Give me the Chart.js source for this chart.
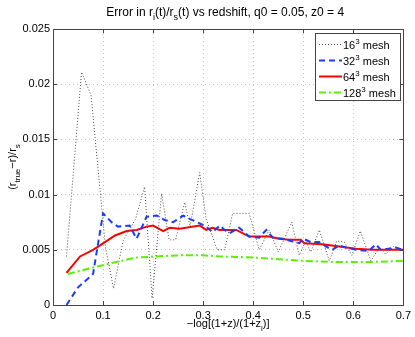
<!DOCTYPE html>
<html><head><meta charset="utf-8">
<script src="https://cdn.jsdelivr.net/npm/chart.js@4/dist/chart.umd.min.js"></script>
<style>html,body{margin:0;padding:0;background:#fff}</style>
</head><body>
<canvas id="c" width="415" height="337"></canvas>
<script>
// ---- data ----
const xTicks = [0, 0.1, 0.2, 0.3, 0.4, 0.5, 0.6, 0.7];
const xTickLabels = ['0', '0.1', '0.2', '0.3', '0.4', '0.5', '0.6', '0.7'];
const yTicks = [0, 0.005, 0.01, 0.015, 0.02, 0.025];
const yTickLabels = ['0', '0.005', '0.01', '0.015', '0.02', '0.025'];
const seriesBase = ['16', '32', '64', '128'];

const mesh16X = [0.027,0.057,0.076,0.105,0.121,0.14,0.165,0.183,0.198,0.217,0.232,0.245,0.263,0.274,0.293,0.306,0.328,0.343,0.359,0.392,0.412,0.432,0.45,0.477,0.492,0.505,0.515,0.532,0.552,0.567,0.582,0.597,0.614,0.635,0.652,0.665,0.68,0.7];
const mesh16Y = [0.0044,0.0211,0.0190,0.0052,0.0015,0.0058,0.0078,0.0107,0.0006,0.0101,0.0059,0.0059,0.0093,0.0071,0.0120,0.0078,0.0050,0.0050,0.0083,0.0083,0.0050,0.0068,0.0048,0.0075,0.0045,0.0058,0.0048,0.0068,0.0040,0.0058,0.0057,0.0045,0.0067,0.0040,0.0052,0.0046,0.0053,0.0050];

const mesh32X = [0.027,0.05,0.08,0.1,0.117,0.13,0.153,0.167,0.187,0.207,0.223,0.24,0.26,0.273,0.293,0.306,0.319,0.333,0.343,0.353,0.372,0.392,0.412,0.426,0.439,0.46,0.475,0.492,0.5,0.515,0.532,0.545,0.558,0.572,0.585,0.605,0.631,0.645,0.655,0.685,0.7];
const mesh32Y = [0.0,0.0016,0.0028,0.0083,0.0075,0.0071,0.0072,0.0060,0.0080,0.0081,0.0077,0.0075,0.0081,0.0078,0.0074,0.0071,0.0066,0.0072,0.0068,0.0065,0.0070,0.0062,0.0061,0.0068,0.0061,0.0060,0.0058,0.0056,0.0060,0.0057,0.0057,0.0053,0.0050,0.0054,0.0052,0.0050,0.0049,0.0055,0.0050,0.0052,0.0050];

const mesh64X = [0.027,0.054,0.08,0.094,0.124,0.147,0.167,0.187,0.2,0.22,0.233,0.253,0.293,0.306,0.319,0.333,0.366,0.392,0.432,0.452,0.472,0.495,0.502,0.538,0.572,0.605,0.638,0.671,0.7];
const mesh64Y = [0.0029,0.0044,0.0050,0.0054,0.0063,0.0067,0.0068,0.0071,0.0072,0.0067,0.0070,0.0069,0.0072,0.0068,0.0070,0.0068,0.0068,0.0062,0.0062,0.0060,0.0059,0.0059,0.0056,0.0055,0.0053,0.0051,0.0050,0.0050,0.0050];

const mesh128X = [0.03,0.08,0.127,0.167,0.206,0.253,0.3,0.333,0.4,0.466,0.5,0.558,0.638,0.7];
const mesh128Y = [0.0028,0.0034,0.0039,0.0043,0.0044,0.0045,0.0045,0.0044,0.0043,0.0041,0.0040,0.0039,0.0039,0.0040];

// ---- styles ----
const FONT = "'Liberation Sans', Arial, Helvetica, sans-serif";
const styles = [
  {color: '#4d4d4d', width: 1, dash: [1, 2]},
  {color: '#1a3cff', width: 2, dash: [6, 4]},
  {color: '#ff0000', width: 2, dash: []},
  {color: '#5cf000', width: 2, dash: [7, 3, 2, 3]}
];
const xs = [mesh16X, mesh32X, mesh64X, mesh128X];
const ys = [mesh16Y, mesh32Y, mesh64Y, mesh128Y];

const datasets = xs.map((xa, i) => ({
  label: seriesBase[i] + '\u00b3 mesh',
  data: xa.map((x, j) => ({x: x, y: ys[i][j]})),
  showLine: true,
  borderColor: styles[i].color,
  borderWidth: styles[i].width,
  borderDash: styles[i].dash,
  pointRadius: 0,
  fill: false,
  tension: 0
}));

// rich text: parts = [[text, mode]] mode: 0 normal, 1 sub, 2 sup
function richWidth(ctx, parts, size) {
  let w = 0;
  for (const [t, m] of parts) {
    ctx.font = (m ? Math.round(size * 0.75) : size) + 'px ' + FONT;
    w += ctx.measureText(t).width;
  }
  return w;
}
function drawRich(ctx, parts, x, y, size, align) {
  const w = richWidth(ctx, parts, size);
  let cx = align === 'center' ? x - w / 2 : x;
  ctx.textBaseline = 'alphabetic';
  ctx.textAlign = 'left';
  for (const [t, m] of parts) {
    const s = m ? Math.round(size * 0.75) : size;
    ctx.font = s + 'px ' + FONT;
    const dy = m === 1 ? size * 0.35 : (m === 2 ? -size * 0.4 : 0);
    ctx.fillText(t, cx, y + dy);
    cx += ctx.measureText(t).width;
  }
}

const decor = {
  id: 'decor',
  afterDatasetsDraw(chart) {
    const ctx = chart.ctx, a = chart.chartArea;
    const sx = chart.scales.x, sy = chart.scales.y;
    ctx.save();
    // box
    ctx.strokeStyle = '#444';
    ctx.lineWidth = 1;
    ctx.setLineDash([]);
    ctx.strokeRect(Math.round(a.left) + 0.5, Math.round(a.top) + 0.5, Math.round(a.right - a.left), Math.round(a.bottom - a.top));
    // inward ticks
    ctx.beginPath();
    const tl = 4;
    xTicks.forEach(v => {
      const px = Math.round(sx.getPixelForValue(v)) + 0.5;
      ctx.moveTo(px, a.bottom); ctx.lineTo(px, a.bottom - tl);
      ctx.moveTo(px, a.top); ctx.lineTo(px, a.top + tl);
    });
    yTicks.forEach(v => {
      const py = Math.round(sy.getPixelForValue(v)) + 0.5;
      ctx.moveTo(a.left, py); ctx.lineTo(a.left + tl, py);
      ctx.moveTo(a.right, py); ctx.lineTo(a.right - tl, py);
    });
    ctx.stroke();

    ctx.fillStyle = '#000';
    // title
    drawRich(ctx, [['Error in r', 0], ['i', 1], ['(t)/r', 0], ['s', 1], ['(t) vs redshift, q0 = 0.05, z0 = 4', 0]], (a.left + a.right) / 2 - 3, 16, 12, 'center');
    // x label
    drawRich(ctx, [['\u2212log[(1+z)/(1+z', 0], ['i', 1], [')]', 0]], (a.left + a.right) / 2, 327, 11, 'center');
    // y label
    ctx.save();
    ctx.translate(16, (a.top + a.bottom) / 2);
    ctx.rotate(-Math.PI / 2);
    drawRich(ctx, [['(r', 0], ['true', 1], ['\u2212r)/r', 0], ['s', 1]], 0, 0, 11, 'center');
    ctx.restore();

    // legend
    const lx = 315, ly = 33, lw = 85, lh = 67;
    ctx.fillStyle = '#fff';
    ctx.fillRect(lx, ly, lw, lh);
    ctx.strokeStyle = '#444';
    ctx.lineWidth = 1;
    ctx.strokeRect(lx + 0.5, ly + 0.5, lw, lh);
    for (let i = 0; i < 4; i++) {
      const yy = 44.5 + i * 16;
      ctx.strokeStyle = styles[i].color;
      ctx.lineWidth = styles[i].width;
      ctx.setLineDash(styles[i].dash);
      ctx.beginPath();
      ctx.moveTo(319, yy); ctx.lineTo(342, yy);
      ctx.stroke();
      ctx.setLineDash([]);
      ctx.fillStyle = '#000';
      drawRich(ctx, [[seriesBase[i], 0], ['3', 2], [' mesh', 0]], 343, yy + 4, 11, 'left');
    }
    ctx.restore();
  }
};

new Chart(document.getElementById('c'), {
  type: 'scatter',
  data: {datasets: datasets},
  options: {
    responsive: false,
    animation: false,
    devicePixelRatio: 1,
    layout: {padding: {top: 29, right: 10, left: 0, bottom: 0}},
    plugins: {legend: {display: false}, tooltip: {enabled: false}, title: {display: false}},
    scales: {
      x: {
        type: 'linear', min: 0, max: 0.7,
        afterBuildTicks: s => { s.ticks = xTicks.map(v => ({value: v})); },
        afterFit: s => { s.height = 32; },
        ticks: {callback: (v, i) => xTickLabels[i], font: {size: 11, family: FONT}, color: '#000', padding: 4, maxRotation: 0},
        grid: {color: '#c4c4c4', lineWidth: 1, drawTicks: false},
        border: {display: false, dash: [1, 3]}
      },
      y: {
        type: 'linear', min: 0, max: 0.025,
        afterBuildTicks: s => { s.ticks = yTicks.map(v => ({value: v})); },
        afterFit: s => { s.width = 53; },
        ticks: {callback: (v, i) => yTickLabels[i], font: {size: 11, family: FONT}, color: '#000', padding: 3},
        grid: {color: '#c4c4c4', lineWidth: 1, drawTicks: false},
        border: {display: false, dash: [1, 3]}
      }
    }
  },
  plugins: [decor]
});
</script>
</body></html>
